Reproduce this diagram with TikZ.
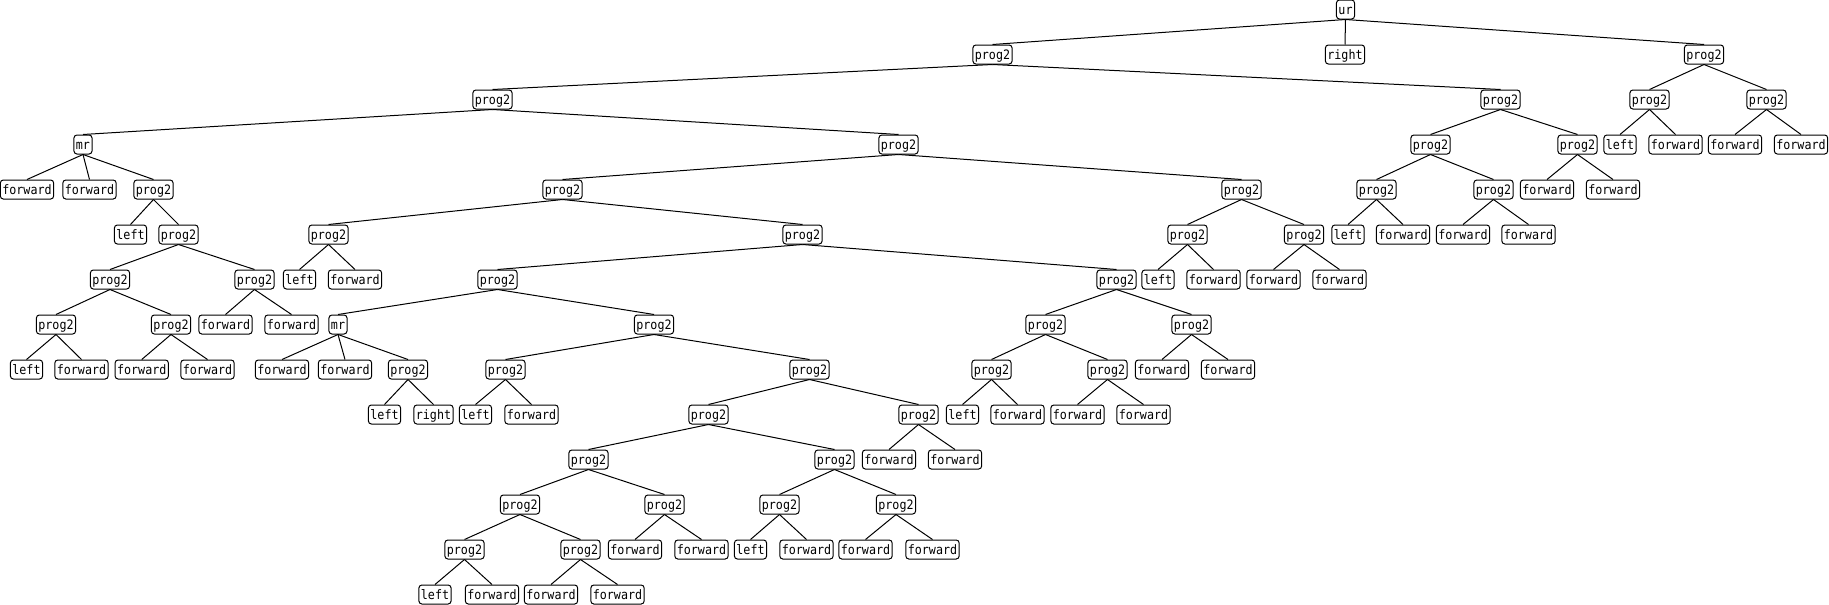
\documentclass[tikz,border=0pt]{standalone}
\usepackage{fontspec}
\newfontfamily\treefont[FakeStretch=0.9]{DejaVu Sans Mono}
\tikzset{
  tbox/.style={draw=black, line width=1pt, rounded corners=3pt, inner xsep=2pt, inner ysep=2pt,
    text height=12.5pt, text depth=2.5pt, font=\treefont\fontsize{13pt}{13pt}\selectfont, fill=white},
  tedge/.style={draw=black, line width=1pt}
}
\newcommand\mynode[4]{\node[tbox] (#1) at (#3,{9.5+45*#4}) {#2};}
\begin{document}
\begin{tikzpicture}[x=1pt,y=-1pt]
\useasboundingbox (0,0) rectangle (1829,605);
% level 0-1
\mynode{n0}{ur}{1345.5}{0}
\mynode{a}{prog2}{992.5}{1}
\mynode{rt}{right}{1345}{1}
\mynode{b}{prog2}{1704}{1}
% right subtree of root
\mynode{b1}{prog2}{1649.5}{2}
\mynode{b2}{prog2}{1766.5}{2}
\mynode{b1l}{left}{1620}{3}
\mynode{b1r}{forward}{1675.5}{3}
\mynode{b2l}{forward}{1735}{3}
\mynode{b2r}{forward}{1801}{3}
% a
\mynode{c}{prog2}{492.5}{2}
\mynode{d}{prog2}{1500.5}{2}
\mynode{e}{prog2}{1430.5}{3}
\mynode{f}{prog2}{1577.5}{3}
\mynode{g}{prog2}{1376.5}{4}
\mynode{h}{prog2}{1493.5}{4}
\mynode{fl}{forward}{1547}{4}
\mynode{fr}{forward}{1613}{4}
\mynode{gl}{left}{1348}{5}
\mynode{gr}{forward}{1403}{5}
\mynode{hl}{forward}{1463}{5}
\mynode{hr}{forward}{1528.5}{5}
% c
\mynode{mr}{mr}{83}{3}
\mynode{i}{prog2}{898.5}{3}
\mynode{mra}{forward}{27}{4}
\mynode{mrb}{forward}{89.5}{4}
\mynode{jj}{prog2}{153.5}{4}
\mynode{jl}{left}{130.5}{5}
\mynode{k}{prog2}{178.5}{5}
\mynode{l}{prog2}{110}{6}
\mynode{m}{prog2}{254.5}{6}
\mynode{la}{prog2}{56}{7}
\mynode{lb}{prog2}{171}{7}
\mynode{laa}{left}{26.5}{8}
\mynode{lab}{forward}{81.5}{8}
\mynode{lba}{forward}{141.75}{8}
\mynode{lbb}{forward}{207.5}{8}
\mynode{ma}{forward}{225.5}{7}
\mynode{mb}{forward}{291.5}{7}
% i
\mynode{n}{prog2}{562.5}{4}
\mynode{o}{prog2}{1241.5}{4}
\mynode{na}{prog2}{328.5}{5}
\mynode{naa}{left}{299.5}{6}
\mynode{nab}{forward}{355}{6}
\mynode{nb}{prog2}{802.5}{5}
\mynode{p}{prog2}{497.5}{6}
\mynode{q}{prog2}{1116.5}{6}
\mynode{pm}{mr}{338}{7}
\mynode{pma}{forward}{282}{8}
\mynode{pmb}{forward}{345}{8}
\mynode{pmc}{prog2}{408}{8}
\mynode{pmca}{left}{384.5}{9}
\mynode{pmcb}{right}{433.5}{9}
\mynode{r}{prog2}{654}{7}
\mynode{ra}{prog2}{505.5}{8}
\mynode{raa}{left}{475.5}{9}
\mynode{rab}{forward}{531.5}{9}
\mynode{rb}{prog2}{809.5}{8}
\mynode{s}{prog2}{708.5}{9}
\mynode{t}{prog2}{918.5}{9}
\mynode{ta}{forward}{889}{10}
\mynode{tb}{forward}{955}{10}
\mynode{sa}{prog2}{588.5}{10}
\mynode{sb}{prog2}{834.5}{10}
\mynode{u}{prog2}{520}{11}
\mynode{v}{prog2}{664.5}{11}
\mynode{ua}{prog2}{464.5}{12}
\mynode{ub}{prog2}{580.5}{12}
\mynode{uaa}{left}{435}{13}
\mynode{uab}{forward}{492}{13}
\mynode{uba}{forward}{551}{13}
\mynode{ubb}{forward}{617.5}{13}
\mynode{va}{forward}{635}{12}
\mynode{vb}{forward}{701.5}{12}
\mynode{w}{prog2}{779.5}{11}
\mynode{x}{prog2}{896}{11}
\mynode{wa}{left}{750.5}{12}
\mynode{wb}{forward}{806.5}{12}
\mynode{xa}{forward}{865.5}{12}
\mynode{xb}{forward}{932.5}{12}
% q
\mynode{qa}{prog2}{1045.5}{7}
\mynode{qb}{prog2}{1191.5}{7}
\mynode{qaa}{prog2}{991.5}{8}
\mynode{qab}{prog2}{1107.5}{8}
\mynode{qaaa}{left}{962.5}{9}
\mynode{qaab}{forward}{1017.5}{9}
\mynode{qaba}{forward}{1077.5}{9}
\mynode{qabb}{forward}{1143.5}{9}
\mynode{qba}{forward}{1162}{8}
\mynode{qbb}{forward}{1228}{8}
% o
\mynode{oa}{prog2}{1187.5}{5}
\mynode{ob}{prog2}{1304}{5}
\mynode{oaa}{left}{1158}{6}
\mynode{oab}{forward}{1213.5}{6}
\mynode{oba}{forward}{1273.5}{6}
\mynode{obb}{forward}{1339.5}{6}
% edges
\begin{scope}[on background layer/.style={}]
\foreach \pa/\ch in {n0/a, n0/rt, n0/b, b/b1, b/b2, b1/b1l, b1/b1r, b2/b2l, b2/b2r,
  a/c, a/d, d/e, d/f, e/g, e/h, f/fl, f/fr, g/gl, g/gr, h/hl, h/hr,
  c/mr, c/i, mr/mra, mr/mrb, mr/jj, jj/jl, jj/k, k/l, k/m, l/la, l/lb, la/laa, la/lab, lb/lba, lb/lbb, m/ma, m/mb,
  i/n, i/o, n/na, n/nb, na/naa, na/nab, nb/p, nb/q, p/pm, p/r, pm/pma, pm/pmb, pm/pmc, pmc/pmca, pmc/pmcb,
  r/ra, r/rb, ra/raa, ra/rab, rb/s, rb/t, t/ta, t/tb, s/sa, s/sb, sa/u, sa/v, u/ua, u/ub, ua/uaa, ua/uab, ub/uba, ub/ubb,
  v/va, v/vb, sb/w, sb/x, w/wa, w/wb, x/xa, x/xb,
  q/qa, q/qb, qa/qaa, qa/qab, qaa/qaaa, qaa/qaab, qab/qaba, qab/qabb, qb/qba, qb/qbb,
  o/oa, o/ob, oa/oaa, oa/oab, ob/oba, ob/obb}
  \draw[tedge] (\pa.south) -- (\ch.north);
\end{scope}
\end{tikzpicture}
\end{document}
